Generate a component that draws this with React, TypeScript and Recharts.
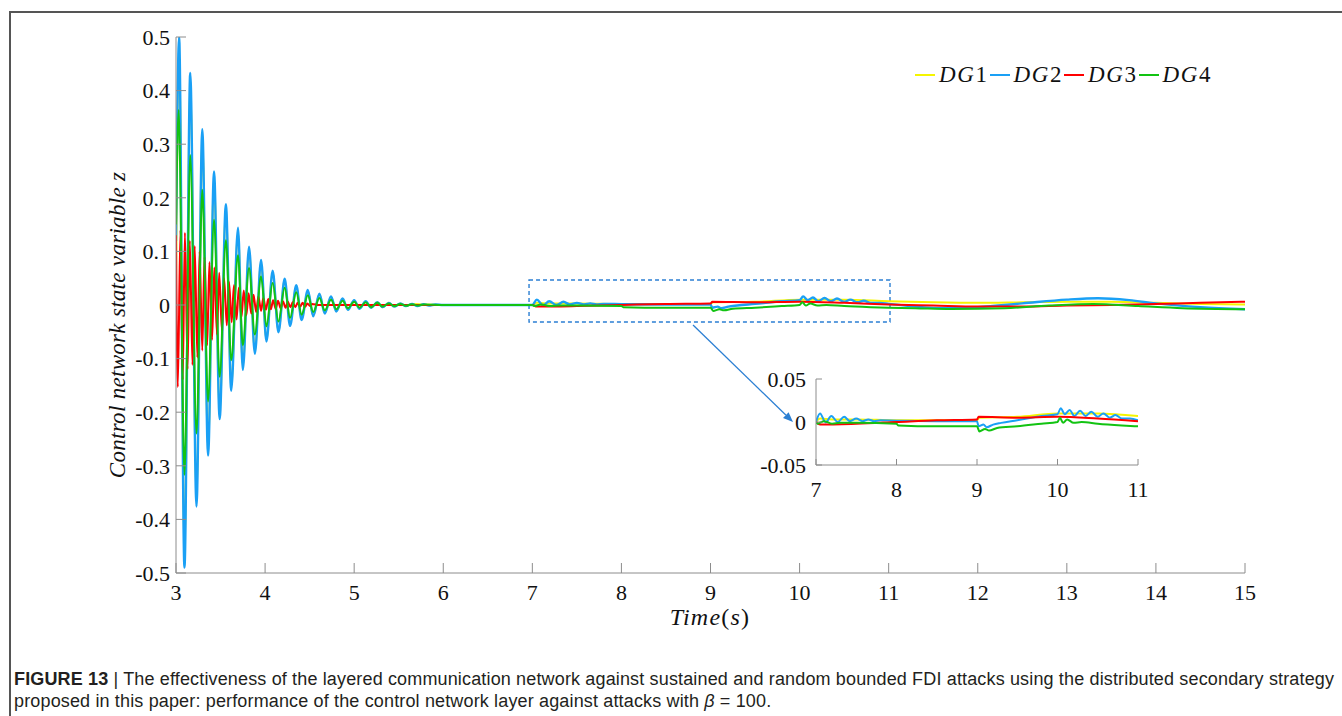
import React from 'react';
import { LineChart, Line, XAxis, YAxis, ReferenceArea, ReferenceLine, Legend } from 'recharts';

type P = [number, number];

const xTicks = [3, 4, 5, 6, 7, 8, 9, 10, 11, 12, 13, 14, 15];
const yTicks = [-0.5, -0.4, -0.3, -0.2, -0.1, 0, 0.1, 0.2, 0.3, 0.4, 0.5];
const insetXTicks = [7, 8, 9, 10, 11];
const insetYTicks = [-0.05, 0, 0.05];
const seriesNames = ['DG1', 'DG2', 'DG3', 'DG4'];
const seriesColors = ['#f5f500', '#1aa0f5', '#ff0000', '#12c312'];

const dg1Points: P[] = [
  [3.0, 0.03], [3.035, 0.47], [3.095, -0.46], [3.16, 0.41], [3.23, -0.355], [3.295, 0.31], [3.36, -0.265],
  [3.427, 0.235], [3.49, -0.2], [3.56, 0.177], [3.62, -0.15], [3.696, 0.135], [3.75, -0.113], [3.82, 0.102],
  [3.885, -0.085], [3.955, 0.079], [4.015, -0.064], [4.085, 0.06], [4.15, -0.048], [4.22, 0.046], [4.28, -0.036],
  [4.35, 0.035], [4.41, -0.026], [4.48, 0.026], [4.54, -0.02], [4.61, 0.02], [4.67, -0.015], [4.74, 0.015],
  [4.8, -0.011], [4.87, 0.011], [4.93, -0.008], [5.0, 0.008], [5.06, -0.006], [5.13, 0.006], [5.19, -0.005],
  [5.26, 0.005], [5.32, -0.004], [5.39, 0.004], [5.45, -0.003], [5.52, 0.003], [5.58, -0.002], [5.65, 0.002],
  [5.78, 0.001], [6.0, 0], [7.0, 0], [7.05, 0.004], [7.2, 0.003], [7.5, 0.003], [8.0, 0.002], [8.5, 0.002],
  [9.0, 0.002], [9.03, 0.005], [9.5, 0.006], [10.0, 0.01], [10.5, 0.01], [11.0, 0.007], [11.5, 0.005],
  [12.0, 0.004], [12.5, 0.005], [13.0, 0.006], [13.5, 0.006], [14.0, 0.004], [14.5, 0.002], [15.0, 0.001],
];

const dg2Points: P[] = [
  [3.0, 0.12], [3.035, 0.5], [3.095, -0.49], [3.16, 0.433], [3.23, -0.376], [3.295, 0.328], [3.36, -0.281],
  [3.427, 0.249], [3.49, -0.213], [3.56, 0.188], [3.62, -0.16], [3.696, 0.144], [3.75, -0.121], [3.82, 0.109],
  [3.885, -0.091], [3.955, 0.084], [4.015, -0.068], [4.085, 0.064], [4.15, -0.051], [4.22, 0.049], [4.28, -0.039],
  [4.35, 0.037], [4.41, -0.028], [4.48, 0.028], [4.54, -0.021], [4.61, 0.021], [4.67, -0.016], [4.74, 0.016],
  [4.8, -0.012], [4.87, 0.012], [4.93, -0.009], [5.0, 0.009], [5.06, -0.007], [5.13, 0.007], [5.19, -0.005],
  [5.26, 0.005], [5.32, -0.004], [5.39, 0.004], [5.45, -0.003], [5.52, 0.003], [5.58, -0.002], [5.65, 0.002],
  [5.71, -0.002], [5.78, 0.0015], [5.84, -0.001], [5.91, 0.001], [6.0, 0], [7.0, 0],
  [7.05, 0.01], [7.12, -0.0005], [7.19, 0.007], [7.27, 0.0], [7.35, 0.006], [7.42, 0.001], [7.5, 0.004],
  [7.58, 0.001], [7.65, 0.003], [7.72, 0.001], [7.8, 0.002], [8.0, 0.0015], [8.5, 0.001], [9.0, 0.001],
  [9.02, -0.005], [9.08, -0.003], [9.12, -0.006], [9.2, -0.003], [9.3, -0.001], [9.5, 0.002], [9.8, 0.007],
  [10.0, 0.009], [10.04, 0.016], [10.09, 0.009], [10.15, 0.014], [10.21, 0.007], [10.28, 0.013], [10.35, 0.007],
  [10.42, 0.012], [10.5, 0.006], [10.57, 0.01], [10.65, 0.005], [10.72, 0.008], [10.8, 0.004], [10.9, 0.004],
  [11.0, 0.002], [11.3, -0.003], [11.65, -0.006], [12.0, -0.004], [12.5, 0.003], [13.0, 0.01], [13.35, 0.0125],
  [13.7, 0.009], [14.0, 0.003], [14.5, -0.004], [15.0, -0.008],
];

const dg3Points: P[] = [
  [3.0, 0.13], [3.02, -0.153], [3.05, 0.14], [3.075, -0.14], [3.1, 0.135], [3.13, -0.12], [3.155, 0.12],
  [3.185, -0.112], [3.21, 0.11], [3.24, -0.098], [3.265, 0.1], [3.295, -0.085], [3.32, 0.09], [3.35, -0.075],
  [3.375, 0.08], [3.405, -0.065], [3.43, 0.07], [3.46, -0.055], [3.485, 0.06], [3.515, -0.047], [3.54, 0.05],
  [3.57, -0.038], [3.595, 0.043], [3.625, -0.032], [3.65, 0.037], [3.68, -0.027], [3.705, 0.032], [3.735, -0.023],
  [3.76, 0.027], [3.79, -0.019], [3.815, 0.022], [3.845, -0.016], [3.87, 0.019], [3.9, -0.013], [3.925, 0.016],
  [3.955, -0.011], [3.98, 0.013], [4.01, -0.009], [4.035, 0.011], [4.065, -0.008], [4.09, 0.009], [4.12, -0.007],
  [4.145, 0.008], [4.175, -0.006], [4.2, 0.007], [4.23, -0.005], [4.255, 0.006], [4.285, -0.004], [4.31, 0.005],
  [4.34, -0.004], [4.365, 0.004], [4.395, -0.003], [4.42, 0.004], [4.45, -0.003], [4.475, 0.003], [4.505, -0.002],
  [4.53, 0.002], [4.6, 0], [7.0, 0], [7.05, -0.003], [7.5, -0.002], [8.0, 0.0], [8.5, 0.002], [9.0, 0.003],
  [9.02, 0.006], [9.5, 0.005], [10.0, 0.006], [10.5, 0.004], [11.0, 0.001], [11.5, -0.001], [12.0, -0.003],
  [12.5, -0.003], [13.0, -0.001], [13.5, 0.0], [14.0, 0.002], [14.5, 0.004], [15.0, 0.006],
];

const dg4Points: P[] = [
  [3.0, 0.15], [3.03, 0.364], [3.095, -0.317], [3.16, 0.28], [3.23, -0.24], [3.295, 0.215], [3.36, -0.18],
  [3.427, 0.159], [3.49, -0.134], [3.56, 0.121], [3.62, -0.103], [3.696, 0.093], [3.75, -0.075], [3.82, 0.069],
  [3.885, -0.055], [3.955, 0.053], [4.015, -0.04], [4.085, 0.041], [4.15, -0.031], [4.22, 0.032], [4.28, -0.024],
  [4.35, 0.024], [4.41, -0.018], [4.48, 0.018], [4.54, -0.013], [4.61, 0.013], [4.67, -0.01], [4.74, 0.01],
  [4.8, -0.008], [4.87, 0.008], [4.93, -0.006], [5.0, 0.006], [5.06, -0.005], [5.13, 0.005], [5.19, -0.004],
  [5.26, 0.004], [5.32, -0.003], [5.39, 0.003], [5.45, -0.002], [5.52, 0.002], [5.58, -0.0015], [5.65, 0.0015],
  [5.71, -0.001], [5.78, 0.001], [6.0, 0], [7.0, 0], [7.02, -0.002], [7.1, 0.001], [7.2, -0.002], [7.3, -0.001],
  [7.5, -0.001], [8.0, -0.002], [8.02, -0.004], [8.5, -0.005], [9.0, -0.005], [9.03, -0.011], [9.1, -0.008],
  [9.15, -0.01], [9.25, -0.007], [9.5, -0.005], [9.8, -0.002], [10.0, 0.0], [10.03, 0.005], [10.07, -0.001],
  [10.12, 0.003], [10.2, -0.001], [10.3, 0.0], [10.5, -0.002], [10.8, -0.004], [11.0, -0.005], [11.3, -0.006],
  [11.7, -0.0075], [12.3, -0.006], [12.8, -0.001], [13.3, 0.002], [13.8, -0.002], [14.3, -0.006], [15.0, -0.008],
];

const allPoints = [dg1Points, dg2Points, dg3Points, dg4Points];
const toRows = (pts: P[]) => pts.map(([t, z]) => ({ t, z }));
const mainData = allPoints.map(toRows);
const insetData = allPoints.map((pts) => toRows(pts.filter(([t]) => t >= 6.9 && t <= 11.1)));

const serif = '"Liberation Serif", "Times New Roman", serif';
const axisColor = '#8c8c8c';
const boxBlue = '#2b7fd3';

const fmt = (v: number) => (v === 0 ? '0' : String(v));
const blank = () => '';

const Arrow = (props: any) => {
  const { x1, y1, x2, y2 } = props;
  const ang = Math.atan2(y2 - y1, x2 - x1);
  const L = 10;
  const W = 4;
  const bx = x2 - L * Math.cos(ang);
  const by = y2 - L * Math.sin(ang);
  const p1x = bx + W * Math.sin(ang);
  const p1y = by - W * Math.cos(ang);
  const p2x = bx - W * Math.sin(ang);
  const p2y = by + W * Math.cos(ang);
  return (
    <g>
      <line x1={x1} y1={y1} x2={bx} y2={by} stroke={boxBlue} strokeWidth={1.3} />
      <polygon points={`${x2},${y2} ${p1x},${p1y} ${p2x},${p2y}`} fill={boxBlue} />
    </g>
  );
};

const renderLegend = () => (
  <div style={{ display: 'flex', alignItems: 'center', fontFamily: serif, fontSize: 23, letterSpacing: 1.6, color: '#111', whiteSpace: 'nowrap' }}>
    {seriesNames.map((n, i) => (
      <span key={n} style={{ display: 'inline-flex', alignItems: 'center' }}>
        <span style={{ display: 'inline-block', width: 20, height: 0, borderTop: `2px solid ${seriesColors[i]}`, margin: '0 4px 0 1px' }} />
        <span>
          <i>{n.slice(0, 2)}</i>
          {n.slice(2)}
        </span>
      </span>
    ))}
  </div>
);

export default function App() {
  const tickStyle = { fill: '#111', fontSize: 22, fontFamily: serif };
  return (
    <div style={{ position: 'absolute', left: 0, top: 0, width: 1342, height: 716, background: '#fff', overflow: 'hidden' }}>
      <div style={{ position: 'absolute', left: 9, top: 11, width: 1400, height: 800, borderTop: '2px solid #555', borderLeft: '2px solid #555' }} />
      <div style={{ position: 'absolute', left: 0, top: 0 }}>
        <LineChart width={1342} height={716} margin={{ top: 37, right: 97, left: 116, bottom: 113 }}>
          <XAxis dataKey="t" type="number" domain={[3, 15]} ticks={xTicks} interval={0} allowDataOverflow
            tickSize={-10} tickMargin={21} height={30} tick={tickStyle} tickFormatter={fmt}
            axisLine={{ stroke: axisColor }} tickLine={{ stroke: axisColor }} />
          <XAxis xAxisId="top" orientation="top" dataKey="t" type="number" domain={[3, 15]} ticks={xTicks} interval={0}
            tickSize={-10} height={0} tickFormatter={blank} axisLine={{ stroke: axisColor }} tickLine={{ stroke: axisColor }} />
          <YAxis type="number" domain={[-0.5, 0.5]} ticks={yTicks} interval={0} allowDataOverflow
            tickSize={-10} tickMargin={16} width={60} tick={tickStyle} tickFormatter={fmt}
            axisLine={{ stroke: axisColor }} tickLine={{ stroke: axisColor }} />
          <YAxis yAxisId="right" orientation="right" type="number" domain={[-0.5, 0.5]} ticks={yTicks} interval={0}
            tickSize={-10} width={0} tickFormatter={blank} axisLine={{ stroke: axisColor }} tickLine={{ stroke: axisColor }} />
          {mainData.map((d, i) => (
            <Line key={seriesNames[i]} name={seriesNames[i]} data={d} dataKey="z" type="monotone"
              stroke={seriesColors[i]} strokeWidth={i === 1 ? 2.4 : 2} dot={false} isAnimationActive={false} />
          ))}
          <ReferenceArea x1={6.963} x2={11.015} y1={-0.0317} y2={0.0466} fill="none" fillOpacity={0}
            stroke={boxBlue} strokeWidth={1.4} strokeDasharray="4 3" ifOverflow="visible" />
          <ReferenceLine segment={[{ x: 8.804, y: -0.0373 }, { x: 9.926, y: -0.2183 }]} shape={Arrow} ifOverflow="visible" />
          <Legend layout="horizontal" verticalAlign="middle" align="center" content={renderLegend}
            wrapperStyle={{ left: 914, top: 62, width: 330, right: 'auto', bottom: 'auto' }} />
        </LineChart>
      </div>
      <div style={{ position: 'absolute', left: 746, top: 359 }}>
        <LineChart width={410} height={155} margin={{ top: 20, right: 18, left: 10, bottom: 19 }}>
          <XAxis dataKey="t" type="number" domain={[7, 11]} ticks={insetXTicks} interval={0} allowDataOverflow
            tickSize={-6} tickMargin={22} height={30} tick={tickStyle} tickFormatter={fmt}
            axisLine={{ stroke: axisColor }} tickLine={{ stroke: axisColor }} />
          <XAxis xAxisId="top" orientation="top" dataKey="t" type="number" domain={[7, 11]} ticks={insetXTicks} interval={0}
            tickSize={-6} height={0} tickFormatter={blank} axisLine={{ stroke: axisColor }} tickLine={{ stroke: axisColor }} />
          <YAxis type="number" domain={[-0.05, 0.05]} ticks={insetYTicks} interval={0} allowDataOverflow
            tickSize={-6} tickMargin={16} width={60} tick={tickStyle} tickFormatter={fmt}
            axisLine={{ stroke: axisColor }} tickLine={{ stroke: axisColor }} />
          <YAxis yAxisId="right" orientation="right" type="number" domain={[-0.05, 0.05]} ticks={insetYTicks} interval={0}
            tickSize={-6} width={0} tickFormatter={blank} axisLine={{ stroke: axisColor }} tickLine={{ stroke: axisColor }} />
          {insetData.map((d, i) => (
            <Line key={seriesNames[i]} name={seriesNames[i]} data={d} dataKey="z" type="monotone"
              stroke={seriesColors[i]} strokeWidth={2} dot={false} isAnimationActive={false} />
          ))}
        </LineChart>
      </div>
      <div style={{ position: 'absolute', left: 118 - 250, top: 310, width: 500, height: 30, lineHeight: '30px', textAlign: 'center',
        transform: 'rotate(-90deg)', fontFamily: serif, fontStyle: 'italic', fontSize: 23, letterSpacing: 0.3, color: '#111' }}>
        Control network state variable z
      </div>
      <div style={{ position: 'absolute', left: 610, top: 602, width: 200, height: 30, lineHeight: '30px', textAlign: 'center',
        fontFamily: serif, fontSize: 24, letterSpacing: 1.2, color: '#111' }}>
        <i>Time</i>(<i>s</i>)
      </div>
      <div style={{ position: 'absolute', left: 14, top: 668, fontFamily: '"Liberation Sans", Arial, sans-serif', fontSize: 18,
        letterSpacing: 0.15, lineHeight: '22px', color: '#231f20', whiteSpace: 'nowrap' }}>
        <div><b>FIGURE 13</b> | The effectiveness of the layered communication network against sustained and random bounded FDI attacks using the distributed secondary strategy</div>
        <div>proposed in this paper: performance of the control network layer against attacks with <i>β</i> = 100.</div>
      </div>
    </div>
  );
}
